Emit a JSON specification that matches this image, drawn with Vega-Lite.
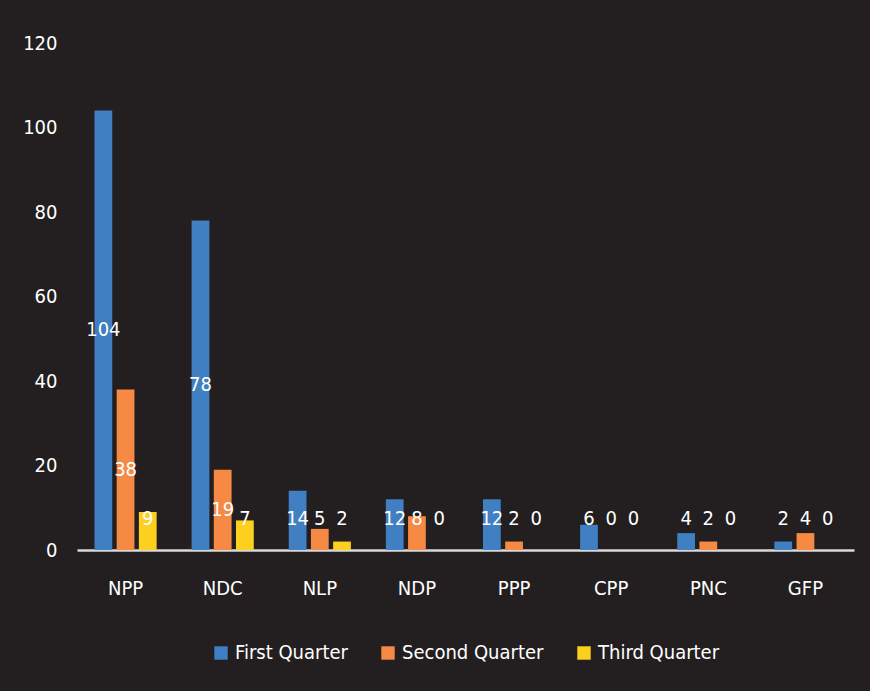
{
  "$schema": "https://vega.github.io/schema/vega-lite/v6.json",
  "width": 777,
  "height": 507,
  "padding": {"left": 22, "top": 33, "right": 18, "bottom": 32},
  "background": "#231f20",
  "config": {
    "view": {"stroke": null},
    "font": "DejaVu Sans Condensed, sans-serif",
    "legend": {"layout": {"bottom": {"anchor": "middle"}}}
  },
  "data": {
    "values": [
      {"party": "NPP", "quarter": "First Quarter", "value": 104},
      {"party": "NPP", "quarter": "Second Quarter", "value": 38},
      {"party": "NPP", "quarter": "Third Quarter", "value": 9},
      {"party": "NDC", "quarter": "First Quarter", "value": 78},
      {"party": "NDC", "quarter": "Second Quarter", "value": 19},
      {"party": "NDC", "quarter": "Third Quarter", "value": 7},
      {"party": "NLP", "quarter": "First Quarter", "value": 14},
      {"party": "NLP", "quarter": "Second Quarter", "value": 5},
      {"party": "NLP", "quarter": "Third Quarter", "value": 2},
      {"party": "NDP", "quarter": "First Quarter", "value": 12},
      {"party": "NDP", "quarter": "Second Quarter", "value": 8},
      {"party": "NDP", "quarter": "Third Quarter", "value": 0},
      {"party": "PPP", "quarter": "First Quarter", "value": 12},
      {"party": "PPP", "quarter": "Second Quarter", "value": 2},
      {"party": "PPP", "quarter": "Third Quarter", "value": 0},
      {"party": "CPP", "quarter": "First Quarter", "value": 6},
      {"party": "CPP", "quarter": "Second Quarter", "value": 0},
      {"party": "CPP", "quarter": "Third Quarter", "value": 0},
      {"party": "PNC", "quarter": "First Quarter", "value": 4},
      {"party": "PNC", "quarter": "Second Quarter", "value": 2},
      {"party": "PNC", "quarter": "Third Quarter", "value": 0},
      {"party": "GFP", "quarter": "First Quarter", "value": 2},
      {"party": "GFP", "quarter": "Second Quarter", "value": 4},
      {"party": "GFP", "quarter": "Third Quarter", "value": 0}
    ]
  },
  "encoding": {
    "x": {
      "field": "party",
      "type": "nominal",
      "sort": null,
      "scale": {"paddingInner": 0.36, "paddingOuter": 0.18},
      "axis": {
        "title": null,
        "labelAngle": 0,
        "labelFontSize": 20,
        "labelColor": "white",
        "labelPadding": 28,
        "ticks": false,
        "domainColor": "#d9d9d9",
        "domainWidth": 2.5
      }
    },
    "xOffset": {
      "field": "quarter",
      "type": "nominal",
      "scale": {"paddingInner": 0.2, "paddingOuter": 0}
    }
  },
  "layer": [
    {
      "mark": {"type": "bar"},
      "encoding": {
        "y": {
          "field": "value",
          "type": "quantitative",
          "scale": {"domain": [0, 120]},
          "axis": {
            "title": null,
            "values": [0, 20, 40, 60, 80, 100, 120],
            "grid": false,
            "domain": false,
            "ticks": false,
            "labelFontSize": 20,
            "labelColor": "white",
            "labelPadding": 20
          }
        },
        "color": {
          "field": "quarter",
          "type": "nominal",
          "scale": {
            "domain": ["First Quarter", "Second Quarter", "Third Quarter"],
            "range": ["#3f7fc2", "#f68a45", "#fdd020"]
          },
          "legend": {
            "title": null,
            "orient": "bottom",
            "direction": "horizontal",
            "symbolType": "square",
            "symbolSize": 180,
            "symbolStrokeWidth": 0,
            "labelFontSize": 20,
            "labelColor": "white",
            "labelOffset": 4,
            "labelLimit": 0,
            "columnPadding": 30,
            "offset": 45
          }
        }
      }
    },
    {
      "transform": [{"calculate": "max(datum.value / 2, 7.4)", "as": "labelPos"}],
      "mark": {"type": "text", "color": "white", "fontSize": 20, "baseline": "middle", "align": "center"},
      "encoding": {
        "y": {"field": "labelPos", "type": "quantitative"},
        "text": {"field": "value", "type": "quantitative"}
      }
    }
  ]
}
